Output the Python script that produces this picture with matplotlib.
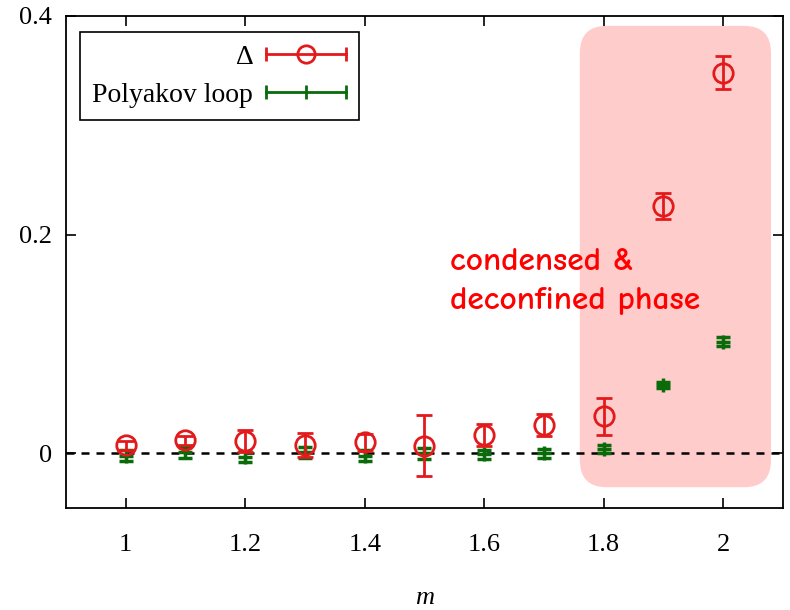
import matplotlib
matplotlib.use('Agg')
import matplotlib.pyplot as plt
import numpy as np
from matplotlib.lines import Line2D
from matplotlib.legend_handler import HandlerLine2D, HandlerTuple
from matplotlib.patches import FancyBboxPatch

# data
m = [1.0, 1.1, 1.2, 1.3, 1.4, 1.5, 1.6, 1.7, 1.8, 1.9, 2.0]
delta = [0.0074, 0.012, 0.011, 0.008, 0.010, 0.007, 0.017, 0.026, 0.034, 0.226, 0.348]
delta_err = [0.004, 0.004, 0.010, 0.011, 0.008, 0.028, 0.010, 0.010, 0.017, 0.012, 0.015]
poly = [-0.002, 0.001, -0.003, 0.001, -0.002, 0.000, -0.001, 0.000, 0.004, 0.0625, 0.102]
poly_err = [0.005, 0.005, 0.005, 0.005, 0.005, 0.005, 0.004, 0.004, 0.004, 0.003, 0.004]

xticks = [1, 1.2, 1.4, 1.6, 1.8, 2]
xticklabels = ['1', '1.2', '1.4', '1.6', '1.8', '2']
yticks = [0, 0.2, 0.4]
yticklabels = ['0', '0.2', '0.4']

red = '#e31a1c'
green = '#0b6b0b'


def main():
    plt.rcParams['font.family'] = ['Liberation Serif', 'DejaVu Serif']
    fig = plt.figure(figsize=(7.9, 6.1), dpi=100)
    ax = fig.add_axes([0.0835, 0.1672, 0.9076, 0.8066])

    ax.axhline(0, color='black', ls=(0, (3.2, 2.8)), lw=1.8, zorder=2)

    ax.errorbar(m, delta, yerr=delta_err, fmt='o', color=red, mfc='none',
                ms=14, mew=2, elinewidth=2, capsize=6, capthick=2, zorder=4)
    ax.errorbar(m, poly, yerr=poly_err, fmt='+', color=green,
                ms=10, mew=2.5, elinewidth=2, capsize=5, capthick=2, zorder=3)

    # shaded region (behind the data)
    box = FancyBboxPatch((1.76, -0.031), 0.32, 0.422,
                         boxstyle='round,pad=0.0,rounding_size=0.045',
                         mutation_aspect=0.552,
                         fc='#ffcccc', ec='none', zorder=1)
    ax.add_patch(box)

    ax.text(1.543, 0.168, 'condensed &', color='#ff0000', fontsize=24,
            family=['Comic Neue', 'DejaVu Sans'], weight='bold',
            va='baseline', zorder=5)
    ax.text(1.543, 0.132, 'deconfined phase', color='#ff0000', fontsize=24,
            family=['Comic Neue', 'DejaVu Sans'], weight='bold',
            va='baseline', zorder=5)

    ax.set_xlim(0.9, 2.1)
    ax.set_ylim(-0.05, 0.4)
    ax.set_xticks(xticks)
    ax.set_xticklabels(xticklabels)
    ax.set_yticks(yticks)
    ax.set_yticklabels(yticklabels)
    ax.tick_params(direction='in', top=True, right=True, length=7, width=1.2,
                   labelsize=19)
    ax.tick_params(axis='x', pad=19)
    ax.tick_params(axis='y', pad=10)
    for s in ax.spines.values():
        s.set_linewidth(1.3)
    ax.set_xlabel('m', fontsize=19, style='italic', labelpad=22)

    # gnuplot-like legend keys
    d_bar = Line2D([], [], color=red, lw=2, marker='|', ms=9.5, mew=2)
    d_pt = Line2D([], [], color=red, ls='none', marker='o', mfc='none', ms=12.5, mew=2)
    p_bar = Line2D([], [], color=green, lw=2, marker='|', ms=9.5, mew=2)
    p_pt = Line2D([], [], color=green, ls='none', marker='|', ms=9.5, mew=2)
    leg = ax.legend([(d_bar, d_pt), (p_bar, p_pt)], ['Δ', 'Polyakov loop'],
                    handler_map={d_bar: HandlerLine2D(numpoints=2, marker_pad=0),
                                 p_bar: HandlerLine2D(numpoints=2, marker_pad=0),
                                 d_pt: HandlerLine2D(numpoints=1),
                                 p_pt: HandlerLine2D(numpoints=1),
                                 tuple: HandlerTuple(ndivide=1)},
                    loc='upper left', bbox_to_anchor=(0.0195, 0.968),
                    borderaxespad=0, markerfirst=False, fancybox=False,
                    edgecolor='black', framealpha=1, fontsize=20,
                    handlelength=2.9, handletextpad=0.45, labelspacing=0.45,
                    borderpad=0.45)
    leg.get_frame().set_linewidth(1.2)
    leg.set_zorder(6)

    fig.savefig('out.png', dpi=100)


if __name__ == '__main__':
    main()
